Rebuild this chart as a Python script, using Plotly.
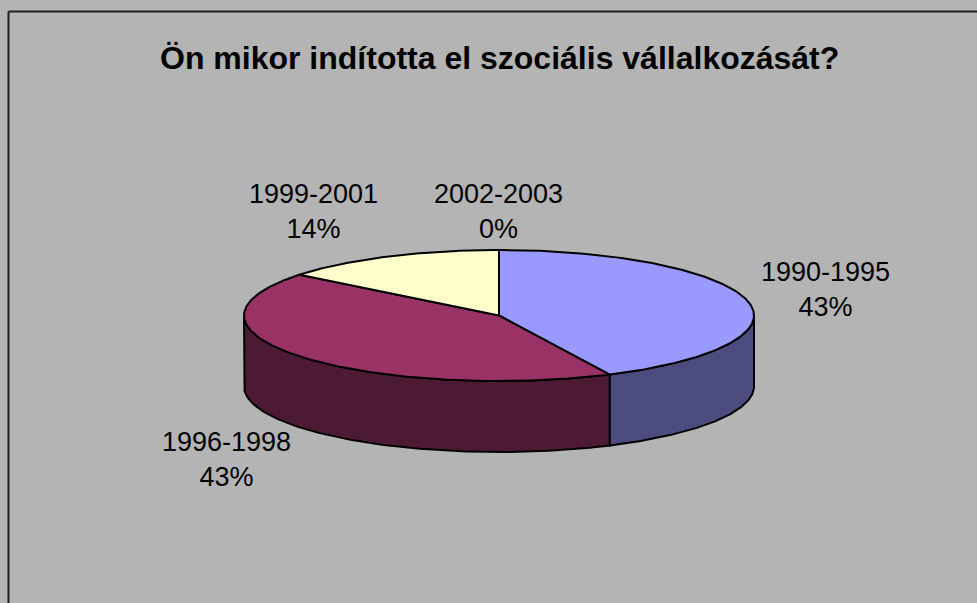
import numpy as np
import plotly.graph_objects as go

# ---- data ----
categories = ["1990-1995", "1996-1998", "1999-2001", "2002-2003"]
values = [3, 3, 1, 0]
title_text = "Ön mikor indította el szociális vállalkozását?"

# ---- style / layout constants ----
top_colors = ["#9999FF", "#993366", "#FFFFCC", "#00FFFF"]
side_colors = ["#4C4C7F", "#4C1A33", "#80805F", "#008080"]
label_pos = [(825, 289), (226, 459), (313, 211), (498, 211)]
W, H = 977, 603
cx, cy, rx, ry, depth = 499, 315.5, 255, 65.5, 71
BG = "#B4B4B4"
FONT = "Liberation Sans, Arial, sans-serif"

total = float(sum(values))
fracs = [v / total for v in values]
starts = np.concatenate([[0], np.cumsum(fracs)[:-1]]) * 360
ends = np.cumsum(fracs) * 360


def pt(theta_deg, dz=0.0):
    t = np.radians(theta_deg)
    return cx + rx * np.sin(t), cy - ry * np.cos(t) + dz


fig = go.Figure()

# side walls (front half only: 90..270 deg clockwise from 12 o'clock)
for i, (a, b) in enumerate(zip(starts, ends)):
    lo, hi = max(a, 90), min(b, 270)
    if hi - lo <= 1e-9:
        continue
    th = np.linspace(lo, hi, 120)
    xt, yt = pt(th)
    xb, yb = pt(th[::-1], depth)
    xs = np.concatenate([xt, xb, xt[:1]])
    ys = np.concatenate([yt, yb, yt[:1]])
    fig.add_trace(go.Scatter(x=xs, y=ys, mode="lines", fill="toself",
                             fillcolor=side_colors[i],
                             line=dict(color="black", width=2),
                             hoverinfo="skip", showlegend=False))

# top faces
for i, (a, b) in enumerate(zip(starts, ends)):
    if b - a <= 1e-9:
        continue
    th = np.linspace(a, b, 200)
    xa, ya = pt(th)
    xs = np.concatenate([[cx], xa, [cx]])
    ys = np.concatenate([[cy], ya, [cy]])
    fig.add_trace(go.Scatter(x=xs, y=ys, mode="lines", fill="toself",
                             fillcolor=top_colors[i],
                             line=dict(color="black", width=2),
                             hoverinfo="skip", showlegend=False))

annotations = []
for cat, f, (lx, ly) in zip(categories, fracs, label_pos):
    annotations.append(dict(x=lx, y=ly, xref="x", yref="y",
                            text=f"{cat}<br>{round(f * 100):.0f}%",
                            showarrow=False, xanchor="center", yanchor="middle",
                            font=dict(family=FONT, size=27, color="black")))
annotations.append(dict(x=499, y=58, xref="x", yref="y", text=f"<b>{title_text}</b>",
                        showarrow=False, xanchor="center", yanchor="middle",
                        font=dict(family=FONT, size=32, color="black")))

fig.update_layout(
    width=W, height=H,
    margin=dict(l=0, r=0, t=0, b=0),
    paper_bgcolor=BG, plot_bgcolor=BG,
    xaxis=dict(range=[0, W], visible=False, fixedrange=True),
    yaxis=dict(range=[H, 0], visible=False, fixedrange=True),
    annotations=annotations,
    shapes=[
        dict(type="line", xref="x", yref="y", x0=8.5, y0=11.5, x1=8.5, y1=H + 5,
             line=dict(color="#202020", width=2)),
        dict(type="line", xref="x", yref="y", x0=8.5, y0=11.5, x1=W + 5, y1=11.5,
             line=dict(color="#202020", width=2)),
    ],
)

fig.write_html("out.html")
